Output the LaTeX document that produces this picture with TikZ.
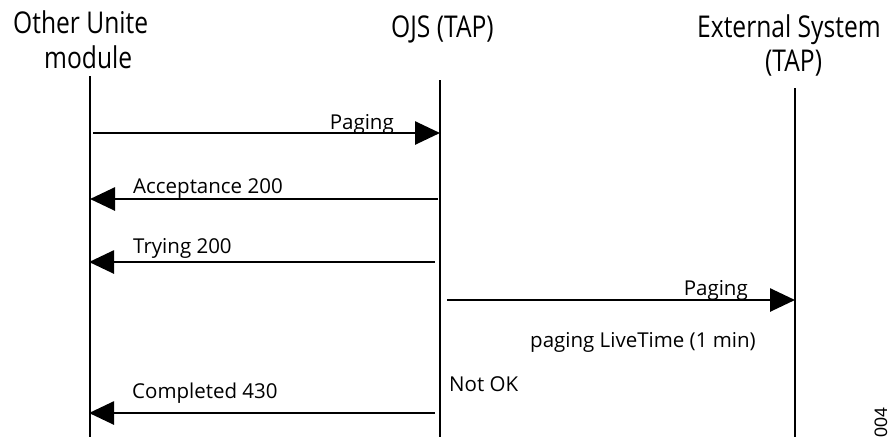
\documentclass[tikz,border=0pt]{standalone}
\usepackage{fontspec}
\setmainfont{Open Sans}
\newfontfamily\condfont[FakeStretch=0.82]{Open Sans}
\newfontfamily\smallfont{Liberation Sans}
\usetikzlibrary{arrows.meta}
\begin{document}
\begin{tikzpicture}[x=1pt,y=-1pt,
  lifeline/.style={line width=2.5pt},
  msg/.style={line width=2.7pt,-{Triangle[length=25pt,width=23pt]}},
  head/.style={font=\condfont\fontsize{30}{34}\selectfont,inner sep=0pt,anchor=base west},
  lbl/.style={font=\fontsize{20.5}{24}\selectfont,inner sep=0pt}]
\useasboundingbox (0,0) rectangle (896,437);
% headers
\node[head] (hA1) at (13,33) {Other Unite};
\node[head] (hA2) at (44,68) {module};
\node[head] (hB) at (391,37) {OJS (TAP)};
\node[head] (hC1) at (697,37) {External System};
\node[head] (hC2) at (765,71) {(TAP)};
% lifelines
\coordinate (aT) at (90,76);  \coordinate (aB) at (90,437);
\coordinate (bT) at (440,80); \coordinate (bB) at (440,437);
\coordinate (cT) at (795,88); \coordinate (cB) at (795,437);
\draw[lifeline] (aT) -- (aB);
\draw[lifeline] (bT) -- (bB);
\draw[lifeline] (cT) -- (cB);
% message endpoints
\coordinate (m1s) at (93,133);  \coordinate (m1e) at (440,133);
\coordinate (m2s) at (438,199); \coordinate (m2e) at (90,199);
\coordinate (m3s) at (435,262); \coordinate (m3e) at (89,262);
\coordinate (m4s) at (447,300); \coordinate (m4e) at (795,300);
\coordinate (m5s) at (435,413); \coordinate (m5e) at (89,413);
\draw[msg] (m1s) -- (m1e);
\draw[msg] (m2s) -- (m2e);
\draw[msg] (m3s) -- (m3e);
\draw[msg] (m4s) -- (m4e);
\draw[msg] (m5s) -- (m5e);
% labels
\node[lbl,anchor=base east] (l1) at (394,129) {Paging};
\node[lbl,anchor=base west] (l2) at (133,193) {Acceptance 200};
\node[lbl,anchor=base west] (l3) at (133,253) {Trying 200};
\node[lbl,anchor=base east] (l4) at (748,295) {Paging};
\node[lbl,anchor=base west] (l5) at (530,347) {paging LiveTime (1 min)};
\node[lbl,anchor=base west] (l6) at (449,391) {Not OK};
\node[lbl,anchor=base west] (l7) at (132,398) {Completed 430};
\node[font=\smallfont\fontsize{18}{21}\selectfont,rotate=90,anchor=base east,inner sep=0pt] (code) at (887,407) {004};
\end{tikzpicture}
\end{document}
